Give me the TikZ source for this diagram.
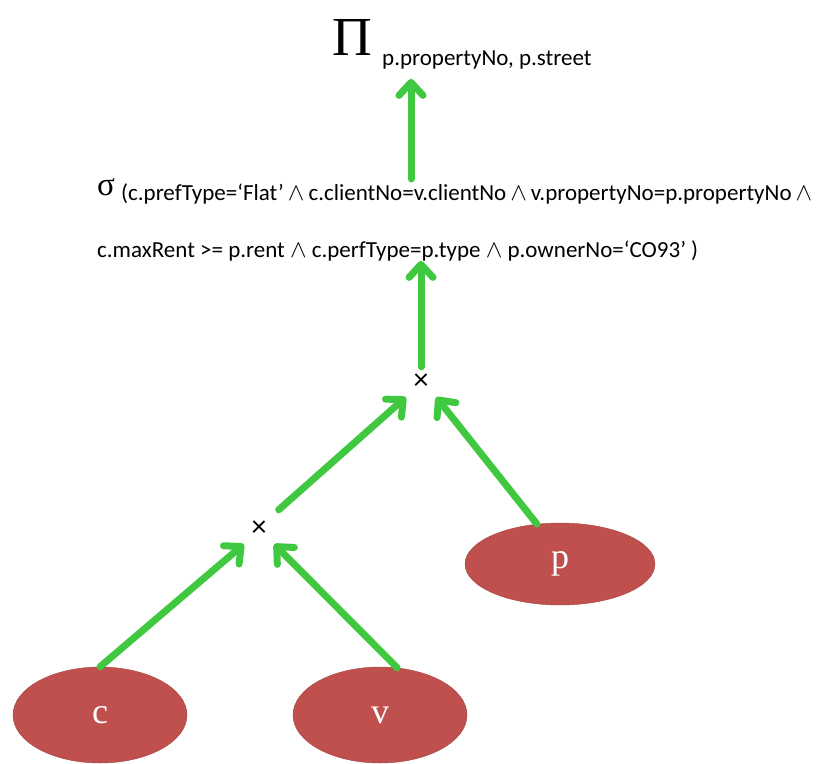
\documentclass[tikz,border=0pt]{standalone}
\usepackage{fontspec}
\setmainfont{Carlito}
\newfontfamily\labelfont{Liberation Serif}
\usetikzlibrary{positioning,arrows.meta,shapes.geometric}
\definecolor{relred}{RGB}{192,80,77}
\definecolor{flowgreen}{RGB}{64,200,64}
\newcommand\condand{\hspace{4pt}$\wedge$\hspace{4pt}}
\tikzset{
  relation/.style={ellipse, draw=relred!85!black, fill=relred, text=white,
    minimum width=174pt, minimum height=96pt, inner sep=0pt,
    font=\labelfont\fontsize{36}{36}\selectfont},
  flow/.style={draw=flowgreen, line width=7pt, line cap=round,
    -{Straight Barb[length=13pt,width=24pt,round]}},
  op/.style={inner sep=0pt, minimum size=30pt, font=\fontsize{30}{30}\selectfont},
  cond/.style={inner sep=0pt, anchor=base west, font=\fontsize{23}{27}\selectfont},
}
\begin{document}
\begin{tikzpicture}[x=1pt, y=-1pt]
    \useasboundingbox (0,0) rectangle (826,763);
    % projection and selection
    \node [inner sep=0pt, anchor=base, font=\labelfont\fontsize{55}{55}\selectfont] (proj) at (352,55) {Π};
    \node [cond] (projlist) at (382,65) {p.propertyNo, p.street};
    \node [inner sep=0pt, anchor=base west, font=\labelfont\fontsize{33}{33}\selectfont] (sigma) at (97,195) {σ};
    \node [cond] (cond1) at (121,200) {(c.prefType=‘Flat’\condand c.clientNo=v.clientNo\condand v.propertyNo=p.propertyNo\condand};
    \node [cond] (cond2) at (97,257) {c.maxRent >= p.rent $\wedge$ c.perfType=p.type $\wedge$ p.ownerNo=‘CO93’ )};
    \coordinate (stem) at (411,0);
    % products
    \node [op] (x1) at (421,382) {×};
    \node [op] (x2) at (259,529) {×};
    % relations
    \node [relation] (c) at (100,715) {c};
    \node [relation] (v) at (380,715) {v};
    \node [relation, minimum width=190pt, minimum height=82pt] (p) at (560,564) {p};
    % arrows
    \draw [flow] ([yshift=4pt]cond1.north -| stem) -- ([yshift=-10pt]projlist.south -| stem);
    \draw [flow] (x1.north) -- (x1.north |- cond2.south);
    \draw [flow, shorten <=6pt] (x2.north east) -- (x1.south west);
    \draw [flow] (p.120) -- (x1.south east);
    \draw [flow] (c.north) -- (x2.south west);
    \draw [flow] (v.70) -- (x2.south east);
\end{tikzpicture}
\end{document}
